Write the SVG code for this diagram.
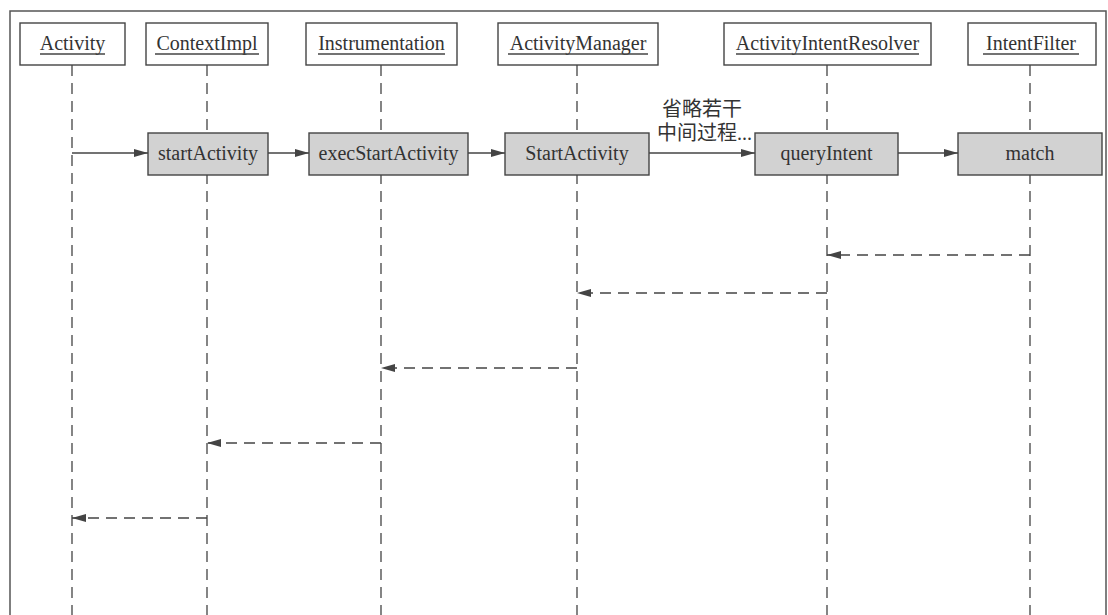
<svg xmlns="http://www.w3.org/2000/svg" width="1108" height="615" viewBox="0 0 1108 615">
  <style>
    .frame { fill: none; stroke: #555; stroke-width: 1.5; }
    .hbox { fill: #fff; stroke: #444; stroke-width: 1.4; }
    .abox { fill: #d2d2d2; stroke: #444; stroke-width: 1.4; }
    .life { stroke: #444; stroke-width: 1.3; stroke-dasharray: 11 7; fill: none; }
    .call { stroke: #444; stroke-width: 1.4; fill: none; marker-end: url(#arr); }
    .ret { stroke: #444; stroke-width: 1.4; stroke-dasharray: 11 7; fill: none; marker-end: url(#arr); }
    .ul { stroke: #444; stroke-width: 1.3; }
    .t { font-family: "Liberation Serif", "Times New Roman", serif; font-size: 20px; fill: #333; text-anchor: middle; }
    .cjk { font-family: "Liberation Serif", "Noto Sans CJK SC", sans-serif; font-size: 20px; fill: #333; }
  </style>
  <defs>
    <marker id="arr" viewBox="0 0 14 8" refX="14" refY="4" markerWidth="14" markerHeight="8" markerUnits="userSpaceOnUse" orient="auto">
      <path d="M0,0 L14,4 L0,8 Z" fill="#444"/>
    </marker>
  </defs>
  <rect width="1108" height="615" fill="#fff"/>
  <path class="frame" d="M10,615 V11 H1106 V615"/>

  <g id="lifelines">
    <line class="life" x1="72" y1="65" x2="72" y2="615"/>
    <line class="life" x1="207" y1="65" x2="207" y2="615"/>
    <line class="life" x1="381" y1="65" x2="381" y2="615"/>
    <line class="life" x1="577" y1="65" x2="577" y2="615"/>
    <line class="life" x1="827" y1="65" x2="827" y2="615"/>
    <line class="life" x1="1030" y1="65" x2="1030" y2="615"/>
  </g>

  <g id="node-activity">
    <rect class="hbox" x="20" y="23" width="105" height="42"/>
    <text class="t" x="72.5" y="50">Activity</text>
    <line class="ul" x1="40" y1="54" x2="105" y2="54"/>
  </g>
  <g id="node-contextimpl">
    <rect class="hbox" x="146" y="23" width="122" height="42"/>
    <text class="t" x="207" y="50">ContextImpl</text>
    <line class="ul" x1="155" y1="54" x2="259" y2="54"/>
  </g>
  <g id="node-instrumentation">
    <rect class="hbox" x="306" y="23" width="151" height="42"/>
    <text class="t" x="381.5" y="50">Instrumentation</text>
    <line class="ul" x1="318" y1="54" x2="445" y2="54"/>
  </g>
  <g id="node-activitymanager">
    <rect class="hbox" x="498" y="23" width="160" height="42"/>
    <text class="t" x="578" y="50">ActivityManager</text>
    <line class="ul" x1="508" y1="54" x2="648" y2="54"/>
  </g>
  <g id="node-activityintentresolver">
    <rect class="hbox" x="724" y="23" width="207" height="42"/>
    <text class="t" x="827.5" y="50">ActivityIntentResolver</text>
    <line class="ul" x1="736" y1="54" x2="919" y2="54"/>
  </g>
  <g id="node-intentfilter">
    <rect class="hbox" x="968" y="23" width="128" height="42"/>
    <text class="t" x="1031" y="50">IntentFilter</text>
    <line class="ul" x1="983" y1="54" x2="1079" y2="54"/>
  </g>

  <g id="act-startActivity">
    <rect class="abox" x="148" y="133" width="120" height="42"/>
    <text class="t" x="208" y="160">startActivity</text>
  </g>
  <g id="act-execStartActivity">
    <rect class="abox" x="309" y="133" width="159" height="42"/>
    <text class="t" x="388.5" y="160">execStartActivity</text>
  </g>
  <g id="act-StartActivity">
    <rect class="abox" x="505" y="133" width="144" height="42"/>
    <text class="t" x="577" y="160">StartActivity</text>
  </g>
  <g id="act-queryIntent">
    <rect class="abox" x="755" y="133" width="143" height="42"/>
    <text class="t" x="826.5" y="160">queryIntent</text>
  </g>
  <g id="act-match">
    <rect class="abox" x="958" y="133" width="144" height="42"/>
    <text class="t" x="1030" y="160">match</text>
  </g>

  <g id="connectors">
    <line class="call" x1="72" y1="153" x2="148" y2="153"/>
    <line class="call" x1="268" y1="153" x2="309" y2="153"/>
    <line class="call" x1="468" y1="153" x2="505" y2="153"/>
    <line class="call" x1="649" y1="153" x2="755" y2="153"/>
    <line class="call" x1="898" y1="153" x2="958" y2="153"/>
    <text class="cjk" x="662" y="116">省略若干</text>
    <text class="cjk" x="657" y="140">中间过程...</text>

    <line class="ret" x1="1030" y1="255" x2="827" y2="255"/>
    <line class="ret" x1="827" y1="293" x2="577" y2="293"/>
    <line class="ret" x1="577" y1="368" x2="381" y2="368"/>
    <line class="ret" x1="381" y1="443" x2="207" y2="443"/>
    <line class="ret" x1="207" y1="518" x2="72" y2="518"/>
  </g>
</svg>
